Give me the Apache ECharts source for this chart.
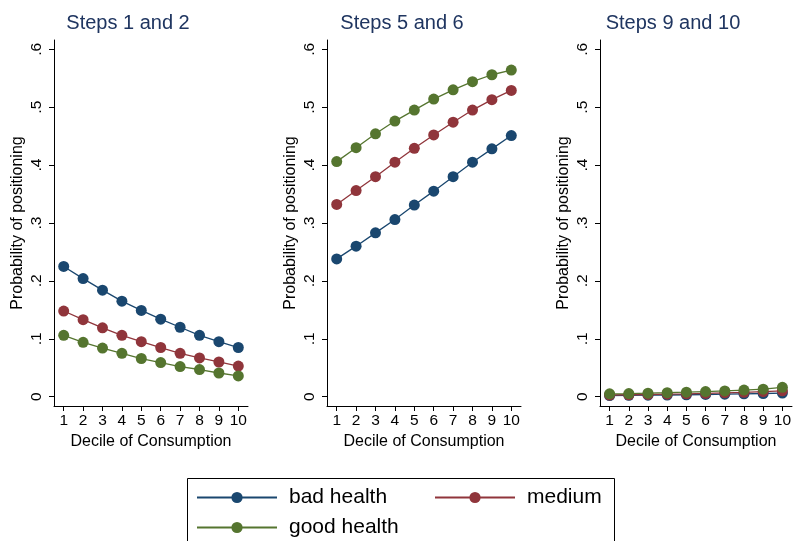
<!DOCTYPE html>
<html><head><meta charset="utf-8">
<script src="https://cdn.jsdelivr.net/npm/echarts@6/dist/echarts.min.js"></script>
<style>html,body{margin:0;padding:0;background:#fff}#c{width:794px;height:541px}</style>
</head><body><div id="c"></div>
<script>
const deciles = [1,2,3,4,5,6,7,8,9,10];
const yTicks = [0,0.1,0.2,0.3,0.4,0.5,0.6];
const panelTitles = ['Steps 1 and 2','Steps 5 and 6','Steps 9 and 10'];
const seriesNames = ['bad health','medium','good health'];
// Steps 1 and 2
const s12Bad    = [0.225,0.204,0.184,0.165,0.149,0.134,0.120,0.106,0.095,0.085];
const s12Medium = [0.148,0.133,0.119,0.106,0.095,0.085,0.075,0.067,0.060,0.053];
const s12Good   = [0.106,0.094,0.084,0.075,0.066,0.059,0.052,0.047,0.041,0.036];
// Steps 5 and 6
const s56Bad    = [0.238,0.260,0.283,0.306,0.331,0.355,0.380,0.405,0.428,0.451];
const s56Medium = [0.332,0.356,0.380,0.405,0.429,0.452,0.474,0.495,0.513,0.529];
const s56Good   = [0.406,0.430,0.454,0.476,0.495,0.514,0.530,0.544,0.556,0.564];
// Steps 9 and 10
const s910Bad    = [0.002,0.0024,0.0027,0.003,0.0034,0.0039,0.0044,0.005,0.0056,0.0063];
const s910Medium = [0.003,0.0034,0.0039,0.0044,0.005,0.0058,0.0067,0.0077,0.0088,0.0102];
const s910Good   = [0.005,0.0055,0.0062,0.007,0.0079,0.0089,0.010,0.0115,0.013,0.0162];

const colors = ['#1a476f','#90353b','#55752f'];
const font = 'Liberation Sans, Arial, sans-serif';
const panels = [[s12Bad,s12Medium,s12Good],[s56Bad,s56Medium,s56Good],[s910Bad,s910Medium,s910Good]];
const gridLefts = [54,327,600];
const titleCenters = [128,402,673];
const gridWidth = 194;

const grid = [], xAxis = [], yAxis = [], series = [], title = [];
panels.forEach((p,i)=>{
  grid.push({left:gridLefts[i], top:40, width:gridWidth, height:366});
  title.push({text:panelTitles[i], left:titleCenters[i], top:13, textAlign:'center', padding:0,
    textStyle:{fontFamily:font, fontSize:20, fontWeight:'normal', color:'#1f3560'}});
  xAxis.push({type:'value', gridIndex:i, min:0.5, max:10.5,
    name:'Decile of Consumption', nameLocation:'middle', nameGap:28,
    nameTextStyle:{fontFamily:font, fontSize:16, color:'#000'},
    axisLine:{show:true, onZero:false, lineStyle:{color:'#000', width:1}},
    axisTick:{show:true, length:5, customValues:deciles, lineStyle:{color:'#000'}},
    axisLabel:{customValues:deciles, fontFamily:font, fontSize:15.5, color:'#000', margin:7},
    splitLine:{show:false}});
  yAxis.push({type:'value', gridIndex:i, min:-0.016, max:0.616,
    name:'Probability of positioning', nameLocation:'middle', nameGap:28,
    nameTextStyle:{fontFamily:font, fontSize:16, color:'#000'},
    axisLine:{show:true, onZero:false, lineStyle:{color:'#000', width:1}},
    axisTick:{show:true, length:5, customValues:yTicks, lineStyle:{color:'#000'}},
    axisLabel:{customValues:yTicks, rotate:90, fontFamily:font, fontSize:15.5, color:'#000', margin:9,
      formatter:v=> v===0 ? '0' : String(Math.round(v*10)/10).replace(/^0/,'')},
    splitLine:{show:false}});
  p.forEach((arr,k)=>{
    series.push({type:'line', name:seriesNames[k], xAxisIndex:i, yAxisIndex:i,
      data:deciles.map((d,j)=>[d,arr[j]]), symbol:'circle', symbolSize:11,
      itemStyle:{color:colors[k]}, lineStyle:{color:colors[k], width:1.3},
      z:2+k, animation:false});
  });
});

const legendPos = [[196,487],[434,487],[196,517]];
const legend = seriesNames.map((n,k)=>({data:[n], left:legendPos[k][0], top:legendPos[k][1], padding:0,
  itemWidth:80, itemHeight:14, itemGap:0, textStyle:{fontFamily:font, fontSize:21, color:'#000', padding:[0,0,0,7]},
  selectedMode:false}));

const chart = echarts.init(document.getElementById('c'), null, {renderer:'canvas'});
chart.setOption({
  backgroundColor:'#fff', animation:false,
  title, grid, xAxis, yAxis, series, legend,
  graphic:[{type:'rect', shape:{x:187.5, y:478.5, width:427, height:80},
    style:{fill:'none', stroke:'#000', lineWidth:1}, z:-1}]
});
</script></body></html>
